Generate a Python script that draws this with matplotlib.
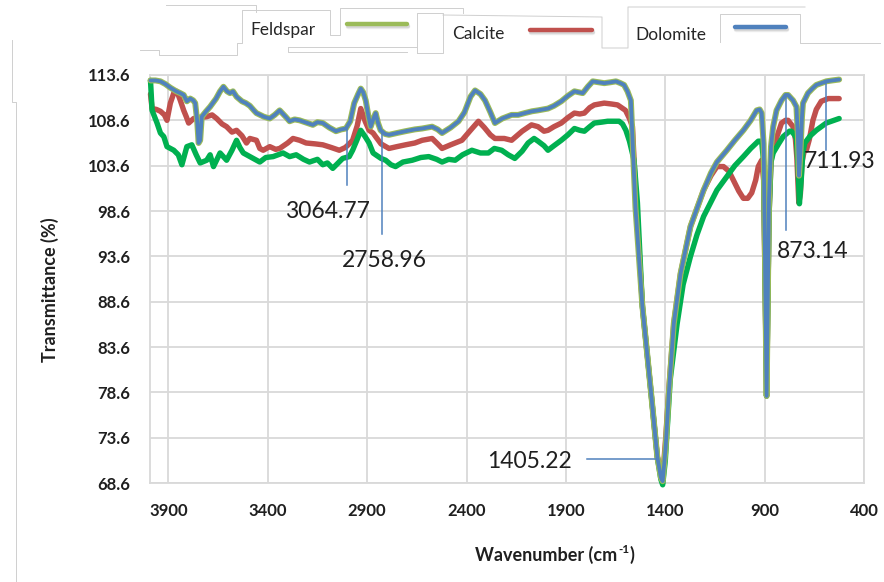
import matplotlib
matplotlib.use("Agg")
import matplotlib.pyplot as plt
import matplotlib.patheffects as pe

# ---------------- data ----------------
x_ticks = [3900, 3400, 2900, 2400, 1900, 1400, 900, 400]
y_ticks = [68.6, 73.6, 78.6, 83.6, 88.6, 93.6, 98.6, 103.6, 108.6, 113.6]
y_tick_labels = ["68.6", "73.6", "78.6", "83.6", "88.6", "93.6", "98.6", "103.6", "108.6", "113.6"]

series_names = ["Feldspar", "Calcite", "Dolomite"]

feldspar_wn = [3990, 3982, 3957, 3940, 3923, 3907, 3873, 3850, 3832, 3807, 3782, 3760, 3740, 3707, 3690,
               3673, 3640, 3607, 3580, 3557, 3540, 3523, 3490, 3440, 3410, 3373, 3323, 3290, 3257, 3220,
               3190, 3150, 3123, 3100, 3073, 3050, 3023, 2990, 2973, 2950, 2932, 2910, 2890, 2870, 2857,
               2830, 2807, 2780, 2757, 2720, 2673, 2630, 2590, 2550, 2523, 2490, 2457, 2420, 2373, 2330,
               2290, 2260, 2223, 2190, 2157, 2120, 2090, 2060, 2040, 2010, 1990, 1960, 1923, 1890, 1857,
               1830, 1807, 1780, 1757, 1720, 1690, 1660, 1632, 1615, 1598, 1580, 1557, 1540, 1515, 1473,
               1440, 1422, 1413, 1400, 1375, 1340, 1310, 1273, 1240, 1207, 1170, 1140, 1090, 1050, 1007,
               970, 932, 915, 905, 890, 878, 868, 857, 830, 807, 775, 765, 750, 740, 733, 725, 716, 708,
               698, 670, 640, 590, 525]
feldspar_t = [113.0, 109.7, 108.3, 107.2, 106.8, 105.7, 105.3, 104.8, 103.7, 105.7, 105.9, 104.8, 103.9, 104.2, 104.8,
              103.5, 105.0, 104.2, 105.3, 106.4, 105.6, 105.0, 104.6, 104.0, 104.5, 104.6, 105.0, 104.6, 104.8, 104.3,
              104.0, 104.3, 103.7, 103.9, 103.3, 103.8, 104.4, 104.6, 105.3, 106.5, 107.5, 106.8, 106.1, 105.0, 104.8,
              104.4, 104.2, 103.7, 103.5, 104.0, 104.2, 104.5, 104.6, 104.3, 104.0, 104.3, 104.2, 104.8, 105.3, 105.0,
              105.0, 105.5, 105.3, 104.8, 104.4, 105.2, 106.1, 106.6, 106.3, 105.8, 105.3, 105.8, 106.4, 107.0, 107.7,
              107.5, 107.4, 107.9, 108.3, 108.4, 108.5, 108.5, 108.5, 108.2, 107.5, 106.3, 104.2, 99.5, 88.1, 78.9,
              71.5, 69.0, 68.4, 71.0, 80.0, 86.2, 90.5, 93.6, 96.0, 98.0, 99.6, 100.9, 102.4, 103.6, 104.6,
              105.5, 106.3, 106.3, 104.0, 78.2, 98.0, 104.0, 105.0, 106.0, 106.8, 107.4, 107.4, 107.0, 106.6, 104.0, 99.4, 102.0, 105.0,
              106.1, 106.9, 107.5, 108.3, 108.8]

calcite_wn = [3990, 3982, 3960, 3940, 3920, 3907, 3890, 3873, 3857, 3840, 3823, 3810, 3798, 3773, 3740,
              3707, 3680, 3657, 3630, 3607, 3580, 3557, 3530, 3507, 3490, 3457, 3440, 3423, 3390, 3360,
              3340, 3300, 3273, 3240, 3207, 3160, 3123, 3080, 3040, 3010, 2990, 2973, 2950, 2932, 2910,
              2890, 2870, 2857, 2830, 2790, 2750, 2707, 2660, 2623, 2573, 2545, 2523, 2480, 2423, 2380,
              2340, 2310, 2280, 2257, 2210, 2173, 2120, 2073, 2040, 2010, 1990, 1960, 1923, 1890, 1857,
              1830, 1807, 1780, 1757, 1707, 1670, 1640, 1620, 1600, 1580, 1565, 1550, 1515, 1473, 1440,
              1422, 1413, 1398, 1380, 1357, 1323, 1273, 1207, 1170, 1140, 1107, 1080, 1057, 1030, 1007,
              985, 965, 945, 932, 915, 905, 890, 878, 868, 857, 835, 815, 795, 782, 757, 745, 738, 728,
              720, 712, 700, 690, 675, 657, 640, 615, 580, 525]
calcite_t = [111.5, 109.9, 109.8, 109.6, 109.2, 108.6, 110.5, 111.6, 111.8, 110.8, 109.7, 109.0, 108.3, 108.8, 108.9,
             109.0, 109.2, 108.8, 108.2, 107.9, 107.3, 107.5, 106.9, 106.1, 106.6, 106.4, 105.5, 105.3, 105.7, 105.4,
             105.5, 106.1, 106.6, 106.4, 106.1, 106.0, 105.9, 105.6, 105.3, 105.6, 106.0, 106.4, 108.0, 109.9, 108.5,
             107.5, 107.2, 106.8, 106.0, 105.5, 105.7, 105.9, 106.1, 106.4, 106.6, 106.0, 105.5, 105.9, 106.4, 107.5,
             108.5, 107.8, 107.0, 106.6, 106.6, 106.4, 107.4, 108.1, 107.9, 107.4, 107.5, 107.9, 108.3, 108.9, 109.4,
             109.3, 109.4, 110.0, 110.3, 110.5, 110.4, 110.3, 110.0, 109.7, 108.8, 107.9, 101.0, 88.1, 78.9, 71.5,
             69.5, 69.2, 73.5, 79.5, 86.2, 91.7, 96.9, 100.9, 102.5, 103.5, 103.5, 103.0, 102.0, 100.8, 100.0,
             100.0, 100.6, 102.0, 103.5, 104.2, 102.0, 78.2, 98.0, 104.0, 105.7, 107.0, 108.3, 108.6, 108.6, 107.9, 106.5, 104.5, 99.5,
             100.5, 104.0, 105.3, 105.3, 106.5, 108.6, 109.8, 110.7, 111.0, 111.0]

dolomite_wn = [3990, 3965, 3940, 3915, 3890, 3860, 3840, 3823, 3807, 3790, 3775, 3765, 3755, 3748, 3740,
               3732, 3710, 3690, 3660, 3640, 3623, 3605, 3590, 3575, 3557, 3530, 3510, 3490, 3470, 3457,
               3420, 3390, 3365, 3340, 3310, 3290, 3265, 3240, 3200, 3173, 3150, 3123, 3090, 3057, 3030,
               3007, 2985, 2965, 2945, 2932, 2920, 2907, 2893, 2882, 2868, 2857, 2845, 2832, 2810, 2790,
               2750, 2707, 2660, 2623, 2573, 2545, 2523, 2480, 2440, 2410, 2380, 2357, 2330, 2307, 2280,
               2257, 2220, 2173, 2140, 2107, 2070, 2040, 1990, 1960, 1923, 1890, 1857, 1835, 1815, 1790,
               1765, 1735, 1707, 1675, 1648, 1625, 1607, 1590, 1573, 1560, 1550, 1515, 1473, 1440, 1422,
               1413, 1398, 1382, 1357, 1323, 1273, 1207, 1170, 1140, 1090, 1050, 1007, 970, 940, 925,
               915, 905, 890, 878, 868, 857, 840, 815, 795, 782, 757, 740, 733, 727, 720, 712, 707,
               682, 660, 640, 590, 560, 525]
dolomite_t = [113.0, 113.0, 112.9, 112.6, 112.2, 111.8, 111.6, 111.4, 110.7, 111.0, 110.8, 110.5, 108.5, 106.1, 106.4,
              109.0, 109.6, 110.1, 111.0, 111.8, 112.3, 111.8, 111.6, 111.8, 111.2, 110.7, 110.5, 110.2, 109.7, 109.4,
              109.0, 108.8, 109.2, 109.7, 109.0, 108.5, 108.7, 108.6, 108.3, 108.1, 108.4, 108.3, 107.8, 107.4, 107.6,
              107.7, 108.5, 110.5, 111.5, 112.1, 111.7, 110.8, 109.0, 107.9, 108.8, 109.4, 108.3, 107.5, 107.1, 107.0,
              107.2, 107.4, 107.6, 107.7, 107.9, 107.6, 107.2, 107.8, 108.5, 109.5, 111.2, 111.9, 111.5, 110.8, 109.5,
              108.3, 108.8, 109.2, 109.2, 109.4, 109.6, 109.7, 109.9, 110.2, 110.7, 111.3, 111.8, 111.7, 111.6, 112.3,
              112.9, 112.8, 112.7, 112.8, 112.9, 112.7, 112.5, 111.8, 110.8, 104.0, 99.0, 88.1, 78.9, 71.5, 69.2,
              68.8, 72.5, 78.5, 86.2, 91.7, 96.9, 100.9, 102.8, 104.0, 105.3, 106.4, 107.5, 108.6, 109.7, 109.8,
              109.4, 106.0, 78.2, 100.0, 105.7, 107.9, 109.7, 110.8, 111.4, 111.4, 110.8, 110.1, 107.0, 102.5, 105.0, 109.0, 110.5,
              111.6, 112.1, 112.5, 112.9, 113.0, 113.1]

# peak annotations: label, leader line (wavenumber, T) pairs, label anchor
annot_labels = ["3064.77", "2758.96", "1405.22", "873.14", "711.93"]
annot_line_x = [[3003, 3003], [2823, 2823], [1795, 1448], [790, 790], [590, 590]]
annot_line_y = [[107.7, 101.5], [107.4, 96.1], [71.23, 71.23], [111.4, 96.5], [112.7, 105.3]]
annot_text_x = [3098, 2815, 2082, 657, 525]
annot_text_y = [97.79, 92.47, 70.22, 93.38, 103.31]

# ---------------- styling ----------------
GREEN = "#00B050"
LGREEN = "#9BBB59"
RED = "#C0504D"
BLUE = "#4F81BD"
GRID = "#D9D9D9"
TXT = "#1F1F1F"
FONT = ["Lato", "DejaVu Sans"]
plt.rcParams["font.family"] = FONT

W, H = 884, 582
fig = plt.figure(figsize=(W / 100, H / 100), dpi=100)
fig.patch.set_facecolor("white")

ax = fig.add_axes([149.5 / W, 1 - 483 / H, (864 - 149.5) / W, (483 - 75) / H])
ax.set_xlim(3995, 400)
ax.set_ylim(68.6, 113.6)
ax.set_xticks(x_ticks)
ax.set_xticklabels([str(v) for v in x_ticks], fontsize=12, fontweight="bold", color=TXT)
ax.set_yticks(y_ticks)
ax.set_yticklabels(y_tick_labels, fontsize=12, fontweight="bold", color=TXT)
ax.tick_params(axis="both", length=0)
ax.tick_params(axis="x", pad=14.5)
ax.tick_params(axis="y", pad=14)
ax.grid(True, color=GRID, lw=1.3)
ax.set_axisbelow(True)
for s in ax.spines.values():
    s.set_color(GRID)
    s.set_linewidth(1.3)

ax.plot(calcite_wn, calcite_t, color=RED, lw=3.9, zorder=3, clip_on=False,
        solid_joinstyle="round", solid_capstyle="round")
ax.plot(feldspar_wn, feldspar_t, color=GREEN, lw=3.9, zorder=4, clip_on=False,
        solid_joinstyle="round", solid_capstyle="round")
ax.plot(dolomite_wn, dolomite_t, color=BLUE, lw=2.7, zorder=5, clip_on=False,
        solid_joinstyle="round", solid_capstyle="round",
        path_effects=[pe.Stroke(linewidth=4.3, foreground=LGREEN), pe.Normal()])

for lab, lx, ly, tx, ty in zip(annot_labels, annot_line_x, annot_line_y, annot_text_x, annot_text_y):
    ax.plot(lx, ly, color=BLUE, lw=1.1, zorder=6, clip_on=False)
    ax.text(tx, ty, lab, fontsize=16.5, color=TXT, ha="center", va="baseline", zorder=7, clip_on=False)

# axis titles
fig.text(50 / W, 1 - 290 / H, "Transmittance (%)", rotation=90, fontsize=13, fontweight="bold",
         color=TXT, ha="center", va="center")

renderer = fig.canvas.get_renderer()
t_main = fig.text(0, 1 - 561 / H, "Wavenumber (cm", fontsize=13, fontweight="bold", color=TXT,
                  ha="left", va="baseline")
t_sup = fig.text(0, 1 - 568 / H, "-1", fontsize=8.5, fontweight="bold", color=TXT,
                 ha="left", va="baseline")
t_end = fig.text(0, 1 - 561 / H, ")", fontsize=13, fontweight="bold", color=TXT,
                 ha="left", va="baseline")
w_main = t_main.get_window_extent(renderer).width
w_sup = t_sup.get_window_extent(renderer).width
w_end = t_end.get_window_extent(renderer).width
total = w_main + w_sup + w_end + 1
x0 = 555 - total / 2
t_main.set_position((x0 / W, 1 - 561 / H))
t_sup.set_position(((x0 + w_main + 0.5) / W, 1 - 553 / H))
t_end.set_position(((x0 + w_main + w_sup + 1) / W, 1 - 561 / H))

# ---------------- legend (separate boxes at the top) ----------------
ov = fig.add_axes([0, 0, 1, 1], zorder=10)
ov.set_xlim(0, W)
ov.set_ylim(H, 0)
ov.axis("off")
ov.patch.set_alpha(0)

box_lines = [
    [(166, 5), (256, 5), (256, 12)],
    [(140, 50), (159, 50), (159, 55), (237, 55), (237, 43), (242, 43), (242, 10), (330, 10),
     (330, 35), (340, 35), (340, 8), (463, 8), (463, 13)],
    [(288, 47), (417, 47)],
    [(288, 47), (288, 52), (407, 52)],
    [(417, 53), (417, 13), (443, 13), (443, 53), (417, 53)],
    [(443, 15), (602, 17), (602, 48), (628, 48), (628, 7), (805, 7)],
    [(720, 42), (720, 14), (800, 14), (800, 43), (880, 43)],
    [(12, 40), (12, 102), (16, 102), (16, 582)],
]
for pts in box_lines:
    ov.plot([p[0] for p in pts], [p[1] for p in pts], color="#CFCFCF", lw=0.7)

legend_text_x = [250.5, 452.5, 635]
legend_text_y = [34.5, 39.3, 39.5]
legend_line_x = [(347, 407), (530, 592), (735, 786)]
legend_line_y = [24, 30, 27]
legend_colors = [LGREEN, RED, BLUE]
shadow = [pe.SimpleLineShadow(offset=(0.5, -1.5), shadow_color="#8C8C8C", alpha=0.25),
          pe.SimpleLineShadow(offset=(0.5, -2.5), shadow_color="#8C8C8C", alpha=0.12),
          pe.Normal()]
for name, tx, ty, (xa, xb), ly, c in zip(series_names, legend_text_x, legend_text_y,
                                         legend_line_x, legend_line_y, legend_colors):
    ov.text(tx, ty, name, fontsize=12.5, color="#262626", ha="left", va="baseline")
    ov.plot([xa, xb], [ly, ly], color=c, lw=3.2, solid_capstyle="round", path_effects=shadow)

fig.savefig("out.png", dpi=100, facecolor="white")
